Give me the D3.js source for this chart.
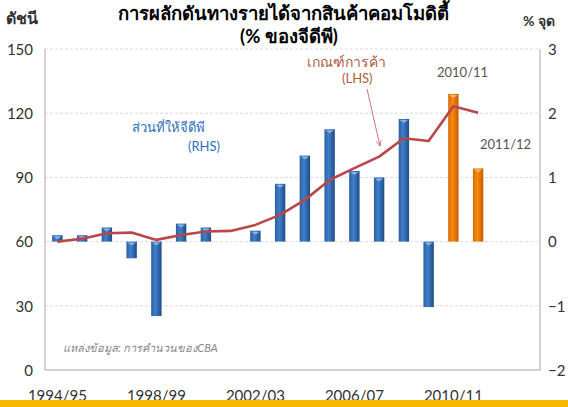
<!DOCTYPE html>
<html>
<head>
<meta charset="utf-8">
<script src="https://cdn.jsdelivr.net/npm/d3@7"></script>
<style>
  body { margin: 0; background: #fff; }
  text { font-family: Lato, "Open Sans", "DejaVu Sans", sans-serif; }
</style>
</head>
<body>
<script>
var width = 568,
    height = 407;

// categories (last two are empty slots on the axis)
var years = ["1994/95","1995/96","1996/97","1997/98","1998/99","1999/00","2000/01","2001/02",
             "2002/03","2003/04","2004/05","2005/06","2006/07","2007/08","2008/09","2009/10",
             "2010/11","2011/12","2012/13","2013/14"];
var tickYears = ["1994/95","1998/99","2002/03","2006/07","2010/11"];

// contribution to GDP (% pts, RHS) - bars
var contrib = [0.10, 0.10, 0.22, -0.26, -1.16, 0.28, 0.22, 0, 0.17, 0.90,
               1.34, 1.75, 1.10, 1.00, 1.91, -1.02, 2.30, 1.14];
// forecast bars drawn orange
var forecast = ["2010/11","2011/12"];

// terms of trade index (LHS) - line
var tot = [60.0, 61.3, 63.9, 64.2, 60.8, 63.1, 64.7, 65.0, 67.8, 72.5,
           79.5, 88.8, 94.3, 99.7, 108.3, 107.0, 123.3, 120.2];

var leftTicks = [0, 30, 60, 90, 120, 150];
var rightTicks = [-2, -1, 0, 1, 2, 3];

var plot = {left: 45, right: 540, top: 49, bottom: 370};

var svg = d3.select("body").append("svg")
    .attr("width", width)
    .attr("height", height);

var defs = svg.append("defs");
function barGrad(id, c0, c1, c2) {
  var g = defs.append("linearGradient").attr("id", id)
      .attr("x1", "0%").attr("x2", "100%").attr("y1", "0%").attr("y2", "0%");
  g.append("stop").attr("offset", "0%").attr("stop-color", c0);
  g.append("stop").attr("offset", "40%").attr("stop-color", c1);
  g.append("stop").attr("offset", "100%").attr("stop-color", c2);
}
barGrad("gBlue", "#2c5f9f", "#3f7fca", "#1f4c86");
barGrad("gOrange", "#d96a06", "#f88a12", "#c65c00");

var x = d3.scaleBand().domain(years).range([plot.left, plot.right]).padding(0);
var yL = d3.scaleLinear().domain([0, 150]).range([plot.bottom, plot.top]);
var yR = d3.scaleLinear().domain([-2, 3]).range([plot.bottom, plot.top]);

// grid lines
svg.append("g").selectAll("line")
  .data(leftTicks.slice(1))
  .enter().append("line")
    .attr("x1", plot.left).attr("x2", plot.right)
    .attr("y1", function(d){ return yL(d); })
    .attr("y2", function(d){ return yL(d); })
    .attr("stroke", "#d0d0d0")
    .attr("stroke-dasharray", "3,2")
    .attr("stroke-width", 0.8);

// frame (left, right, bottom)
svg.append("path")
  .attr("d", "M" + plot.left + "," + plot.top + "V" + plot.bottom + "H" + plot.right + "V" + plot.top)
  .attr("fill", "none")
  .attr("stroke", "#a6a6a6")
  .attr("stroke-width", 1);

// bars
var barData = contrib.map(function(v, i){ return {year: years[i], v: v}; })
  .filter(function(d){ return d.v != 0; });
var bw = x.bandwidth() * 0.42;

var bars = svg.append("g").selectAll("g")
  .data(barData)
  .enter().append("g");

bars.append("rect")
  .attr("x", function(d){ return x(d.year) + x.bandwidth()/2 - bw/2; })
  .attr("y", function(d){ return yR(Math.max(0, d.v)); })
  .attr("width", bw)
  .attr("height", function(d){ return Math.abs(yR(d.v) - yR(0)); })
  .attr("fill", function(d){ return forecast.indexOf(d.year) != -1 ? "url(#gOrange)" : "url(#gBlue)"; });

// bevel highlight at top of each bar
bars.append("path")
  .attr("d", function(d){
    var x0 = x(d.year) + x.bandwidth()/2 - bw/2;
    var t = yR(Math.max(0, d.v));
    return "M" + (x0+1) + "," + (t+1) + "H" + (x0+bw-1) + "L" + (x0+bw/2) + "," + (t+4) + "Z";
  })
  .attr("fill", function(d){ return forecast.indexOf(d.year) != -1 ? "#fbb870" : "#8fb9ea"; })
  .attr("opacity", 0.9);

// line
var line = d3.line()
  .x(function(d, i){ return x(years[i]) + x.bandwidth()/2; })
  .y(function(d){ return yL(d); });

svg.append("path")
  .datum(tot)
  .attr("d", line)
  .attr("fill", "none")
  .attr("stroke", "#b9474a")
  .attr("stroke-width", 2.6)
  .attr("stroke-linejoin", "round");

// left axis
var axL = svg.append("g")
  .attr("transform", "translate(" + (plot.left - 12) + ",0)")
  .call(d3.axisLeft(yL).tickValues(leftTicks).tickSize(0).tickPadding(0));
axL.select(".domain").remove();
axL.selectAll("text").attr("font-size", 15).attr("fill", "#333").attr("dy", "0.35em");

// right axis
var axR = svg.append("g")
  .attr("transform", "translate(" + (plot.right + 8) + ",0)")
  .call(d3.axisRight(yR).tickValues(rightTicks).tickFormat(d3.format("d")).tickSize(0).tickPadding(0));
axR.select(".domain").remove();
axR.selectAll("text").attr("font-size", 15).attr("fill", "#333").attr("dy", "0.35em");

// bottom axis
var axB = svg.append("g")
  .attr("transform", "translate(0," + (plot.bottom + 20) + ")")
  .call(d3.axisBottom(x).tickValues(tickYears).tickSize(0).tickPadding(0));
axB.select(".domain").remove();
axB.selectAll("text").attr("font-size", 15).attr("fill", "#333").attr("dy", "0.71em");

// bottom band
svg.append("rect")
  .attr("x", 0).attr("y", 400)
  .attr("width", width).attr("height", 7)
  .attr("fill", "#f9b800");

// titles
svg.append("text")
  .attr("x", 283).attr("y", 20)
  .attr("text-anchor", "middle")
  .attr("font-size", 18.5).attr("font-weight", "bold")
  .text("การผลักดันทางรายได้จากสินค้าคอมโมดิตี้");
svg.append("text")
  .attr("x", 289).attr("y", 43)
  .attr("text-anchor", "middle")
  .attr("font-size", 18.5).attr("font-weight", "bold")
  .text("(% ของจีดีพี)");
svg.append("text")
  .attr("x", 6).attr("y", 24)
  .attr("font-size", 16).attr("font-weight", "bold").attr("fill", "#333")
  .text("ดัชนี");
svg.append("text")
  .attr("x", 523).attr("y", 26)
  .attr("font-size", 14).attr("font-weight", "bold").attr("fill", "#333")
  .text("% จุด");

// annotations
svg.append("text")
  .attr("x", 132).attr("y", 132)
  .attr("font-size", 13).attr("fill", "#2e6fba")
  .text("ส่วนที่ให้จีดีพี");
svg.append("text")
  .attr("x", 188).attr("y", 151)
  .attr("font-size", 13).attr("fill", "#2e6fba")
  .text("(RHS)");

svg.append("text")
  .attr("x", 307).attr("y", 67)
  .attr("font-size", 14).attr("fill", "#b05a3c")
  .text("เกณฑ์การค้า");
svg.append("text")
  .attr("x", 342).attr("y", 83)
  .attr("font-size", 13).attr("fill", "#b05a3c")
  .text("(LHS)");

defs.append("marker")
  .attr("id", "arr")
  .attr("viewBox", "0 0 10 10")
  .attr("refX", 9).attr("refY", 5)
  .attr("markerWidth", 8).attr("markerHeight", 8)
  .attr("orient", "auto")
  .append("path")
    .attr("d", "M0,1 L9,5 L0,9")
    .attr("fill", "none")
    .attr("stroke", "#b9575a")
    .attr("stroke-width", 1);

svg.append("line")
  .attr("x1", 367).attr("y1", 89)
  .attr("x2", 380).attr("y2", 146)
  .attr("stroke", "#b9575a")
  .attr("stroke-width", 0.8)
  .attr("marker-end", "url(#arr)");

svg.append("text")
  .attr("x", 437).attr("y", 77)
  .attr("font-size", 13).attr("fill", "#555")
  .text("2010/11");
svg.append("text")
  .attr("x", 480).attr("y", 149)
  .attr("font-size", 13).attr("fill", "#555")
  .text("2011/12");

svg.append("text")
  .attr("x", 63).attr("y", 352)
  .attr("font-size", 11).attr("font-style", "italic").attr("fill", "#888")
  .text("แหล่งข้อมูล: การคำนวนของCBA");
</script>
</body>
</html>
